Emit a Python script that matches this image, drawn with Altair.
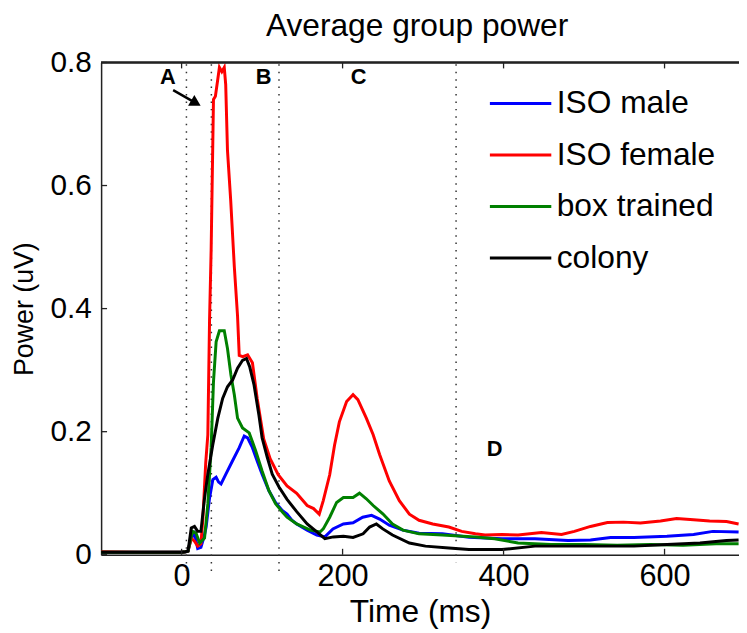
import altair as alt
import pandas as pd

# ---------------- data ----------------
series_names = ["ISO male", "ISO female", "box trained", "colony"]
series_colors = ["#0000FF", "#FF0000", "#008000", "#000000"]

male_t = [-100, -50, 0, 5, 8, 12, 16, 20, 24, 28, 30.5, 34.7, 38.8, 42.9, 46, 49, 55, 63, 71.6, 77.8, 82, 88,
          94, 100, 108.5, 116.7, 125, 131, 137, 143, 156, 168, 178, 188, 201, 213, 225, 236, 246, 258, 275,
          295, 324, 357, 398, 439, 480, 508, 533, 562, 603, 636, 660, 692]
male_v = [0.004, 0.004, 0.004, 0.005, 0.006, 0.027, 0.035, 0.010, 0.012, 0.030, 0.045, 0.092, 0.122, 0.126,
          0.118, 0.115, 0.131, 0.152, 0.174, 0.193, 0.190, 0.174, 0.152, 0.131, 0.104, 0.085, 0.072, 0.066,
          0.056, 0.050, 0.040, 0.032, 0.029, 0.042, 0.050, 0.052, 0.061, 0.064, 0.058, 0.048, 0.040, 0.035,
          0.034, 0.0285, 0.026, 0.026, 0.023, 0.024, 0.028, 0.028, 0.030, 0.033, 0.038, 0.037]

female_t = [-100, -50, 0, 5, 8, 12, 16, 20, 24, 26.5, 30, 32.6, 34.7, 36.7, 39.6, 42, 45, 47, 50, 53, 54.8,
            57, 61, 65.5, 69.5, 71.6, 76, 82, 88, 94, 102, 110, 120, 131, 143, 156, 164, 171, 176, 184, 190,
            196, 205, 213, 219, 229.5, 238, 246, 258, 270.5, 283, 295, 312, 332, 348, 365, 377, 398, 418, 447,
            472, 488, 508, 529, 549, 570, 595, 615, 636, 656, 677, 692]
female_v = [0.005, 0.004, 0.004, 0.005, 0.006, 0.027, 0.022, 0.014, 0.018, 0.060, 0.150, 0.195, 0.380, 0.495,
            0.740, 0.745, 0.773, 0.792, 0.785, 0.792, 0.764, 0.657, 0.576, 0.468, 0.388, 0.324, 0.322, 0.325,
            0.312, 0.253, 0.188, 0.156, 0.130, 0.112, 0.100, 0.080, 0.075, 0.066, 0.088, 0.130, 0.178, 0.216,
            0.249, 0.260, 0.252, 0.222, 0.195, 0.163, 0.120, 0.088, 0.066, 0.056, 0.050, 0.045, 0.038, 0.034,
            0.032, 0.033, 0.032, 0.036, 0.033, 0.038, 0.046, 0.0525, 0.053, 0.0515, 0.055, 0.059, 0.057,
            0.055, 0.054, 0.050]

box_t = [-100, -50, 0, 5, 8, 12, 14, 18, 22.4, 28.5, 32.6, 36.7, 39.6, 42.9, 47, 53, 57, 61.3, 65.5, 69.5,
         75.7, 84, 92, 100, 108.5, 116.7, 125, 131, 143, 160, 172, 176, 184, 192.6, 201, 213, 221, 229.5, 238,
         250, 262, 275, 295, 324, 365, 389, 418, 459, 500, 541, 582, 623, 664, 692]
box_v = [0.004, 0.004, 0.004, 0.005, 0.006, 0.030, 0.038, 0.035, 0.019, 0.027, 0.083, 0.174, 0.281, 0.346,
         0.364, 0.364, 0.335, 0.292, 0.260, 0.222, 0.206, 0.198, 0.169, 0.136, 0.104, 0.083, 0.070, 0.061,
         0.050, 0.040, 0.037, 0.042, 0.061, 0.085, 0.093, 0.093, 0.100, 0.091, 0.080, 0.0665, 0.050, 0.040,
         0.034, 0.032, 0.029, 0.026, 0.019, 0.0166, 0.0166, 0.0156, 0.0166, 0.0156, 0.0177, 0.0177]

colony_t = [-100, -50, 0, 5, 8, 12, 16, 20, 24, 28.5, 32.6, 38.8, 45, 51, 57, 63.4, 69.5, 75.7, 80.6, 84.7,
            90, 96, 100, 106.5, 112.6, 121, 131, 143, 156, 168, 178, 188.5, 201, 213, 225.5, 233.6, 242, 250,
            262, 283, 303, 332, 357, 398, 439, 480, 521, 562, 603, 644, 677, 692]
colony_v = [0.004, 0.004, 0.004, 0.005, 0.006, 0.0435, 0.046, 0.038, 0.038, 0.092, 0.131, 0.179, 0.222,
            0.254, 0.273, 0.284, 0.303, 0.316, 0.319, 0.305, 0.276, 0.2275, 0.190, 0.158, 0.131, 0.110,
            0.090, 0.070, 0.050, 0.037, 0.026, 0.029, 0.030, 0.028, 0.034, 0.045, 0.050, 0.042, 0.032, 0.019,
            0.014, 0.011, 0.0085, 0.0085, 0.014, 0.014, 0.014, 0.014, 0.0166, 0.019, 0.023, 0.024]

event_t = [6, 37, 121, 341]
event_top = [0.797, 0.797, 0.797, 0.797]
event_bottom = [-0.03, -0.03, -0.03, -0.012]

label_text = ["A", "B", "C", "D"]
label_t = [-17, 102, 220, 389]
label_v = [0.776, 0.776, 0.776, 0.172]

arrow_t = [-10.5, 17.8]
arrow_v = [0.755, 0.734]

x_ticks = [0, 200, 400, 600]
y_ticks = [0, 0.2, 0.4, 0.6, 0.8]

x_domain = [-100, 692.5]
y_domain = [0, 0.8]

# ---------------- tables ----------------
rows = []
for name, ts, vs in zip(series_names, [male_t, female_t, box_t, colony_t],
                        [male_v, female_v, box_v, colony_v]):
    for t, v in zip(ts, vs):
        rows.append({"series": name, "t": t, "v": v})
lines_df = pd.DataFrame(rows)
events_df = pd.DataFrame({"t": event_t, "v": event_top, "v2": event_bottom})
labels_df = pd.DataFrame({"t": label_t, "v": label_v, "lab": label_text})
arrow_df = pd.DataFrame({"t": arrow_t, "v": arrow_v})
tip_df = arrow_df.iloc[[-1]]
xt_df = pd.DataFrame({"t": x_ticks})
yt_df = pd.DataFrame({"v": y_ticks})

FONT = "Liberation Sans"
W, H = 644, 497

xs = alt.Scale(domain=x_domain, nice=False, zero=False)
ys = alt.Scale(domain=y_domain, nice=False, zero=False)

x_axis = alt.Axis(values=x_ticks, format="d", ticks=False, grid=False, labelFontSize=31,
                  labelFont=FONT, labelColor="black", labelPadding=7, domainColor="#222",
                  domainWidth=1.5, title="Time (ms)", titleFont=FONT, titleFontSize=32,
                  titleFontWeight="normal", titleColor="black", titlePadding=5)
y_axis = alt.Axis(values=y_ticks, format="~g", ticks=False, grid=False, labelFontSize=30,
                  labelFont=FONT, labelColor="black", labelPadding=10, domainColor="#222",
                  domainWidth=1.5, title="Power (uV)", titleFont=FONT, titleFontSize=27,
                  titleFontWeight="normal", titleColor="black", titlePadding=12)

X = alt.X("t:Q", scale=xs, axis=x_axis)
Y = alt.Y("v:Q", scale=ys, axis=y_axis)

color = alt.Color("series:N", scale=alt.Scale(domain=series_names, range=series_colors),
                  legend=alt.Legend(orient="none", legendX=391, legendY=9, title=None,
                                    symbolType="stroke", symbolSize=3844, symbolStrokeWidth=3,
                                    labelFont=FONT, labelFontSize=32, labelColor="black",
                                    labelOffset=4, rowPadding=3, padding=0, labelLimit=400))

events = alt.Chart(events_df).mark_rule(color="#333", strokeWidth=1.5, strokeDash=[1.5, 6]).encode(
    x=X, y=Y, y2="v2:Q")

line_layers = []
for name in series_names:
    line_layers.append(
        alt.Chart(lines_df).transform_filter(alt.datum.series == name)
        .mark_line(strokeWidth=3, clip=True, interpolate="linear")
        .encode(x=X, y=Y, color=color)
    )

labels = alt.Chart(labels_df).mark_text(font=FONT, fontSize=22, fontWeight="bold", color="black").encode(
    x=X, y=Y, text="lab:N")

arrow_line = alt.Chart(arrow_df).mark_line(color="black", strokeWidth=2.5).encode(x=X, y=Y)
arrow_head = alt.Chart(tip_df).mark_point(shape="triangle-right", angle=30, size=160, filled=True,
                                          color="black", opacity=1).encode(x=X, y=Y)

top_line = alt.Chart(yt_df).mark_rule(color="#222", strokeWidth=1.5).encode(y=alt.datum(0.8, scale=ys))

bottom_ticks = alt.Chart(xt_df).mark_rule(color="#222", strokeWidth=1.3).encode(
    x=X, y=alt.value(H), y2=alt.value(H - 6))
top_ticks = alt.Chart(xt_df).mark_rule(color="#222", strokeWidth=1.3).encode(
    x=X, y=alt.value(0), y2=alt.value(6))
left_ticks = alt.Chart(yt_df).mark_rule(color="#222", strokeWidth=1.3).encode(
    y=Y, x=alt.value(0), x2=alt.value(6))

chart = alt.layer(
    events, *line_layers, labels, arrow_line, arrow_head, top_line, bottom_ticks, top_ticks, left_ticks
).properties(
    width=W, height=H,
    title=alt.Title("Average group power", font=FONT, fontSize=32, fontWeight="normal",
                    color="black", anchor="middle", offset=5, dx=-3),
    autosize=alt.AutoSizeParams(type="none"),
    padding={"left": 94, "top": 52, "right": 0, "bottom": 74},
).configure_view(stroke=None).configure(background="white")

chart.save("out.html", embed_options={"renderer": "svg", "actions": False})
